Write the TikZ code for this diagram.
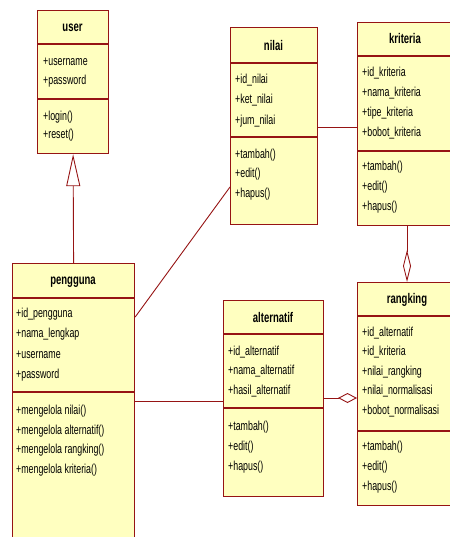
\documentclass[tikz,border=0pt]{standalone}
\usepackage{fontspec}
\setmainfont[FakeStretch=0.68]{Liberation Sans}
\usetikzlibrary{arrows.meta}
\definecolor{classfill}{RGB}{255,255,192}
\definecolor{classline}{RGB}{150,20,20}
\tikzset{
  umlline/.style={draw=classline, line width=1.2pt},
  relline/.style={draw=classline, line width=0.9pt},
  classbox/.style={umlline, fill=classfill, anchor=north west, inner sep=0pt},
  ctitle/.style={font=\fontsize{14}{16}\selectfont\bfseries, inner sep=0pt},
  citem/.style={font=\fontsize{13}{15}\selectfont, anchor=west, inner sep=0pt},
  generalize/.style={relline, -{Triangle[open, width=14pt, length=32pt]}},
  aggregate/.style 2 args={relline, -{Diamond[open, width=#1, length=#2]}},
}
% one class: name, left, top, right, bottom, divider 1, divider 2, title, title y
\newcommand\umlclass[9]{%
  \node[classbox, minimum width=#4-#2, minimum height=#5-#3] (#1) at (#2,#3) {};
  \draw[umlline] (#2,#6) -- (#4,#6);
  \draw[umlline] (#2,#7) -- (#4,#7);
  \node[ctitle] (#1-title) at ({(#2+#4)/2},#9) {#8};
}
% a list of member lines: class name, prefix, x, first y, step, items
\newcommand\umlmembers[6]{%
  \foreach \t [count=\i] in {#6}
    \node[citem] (#1-#2\i) at (#3, {#4+(\i-1)*#5}) {\t};
}
\begin{document}
\begin{tikzpicture}[x=1pt, y=-1pt]
\useasboundingbox (0,0) rectangle (449,537);

% user
\umlclass{user}{37}{10}{108}{153}{44}{99}{user}{28}
\umlmembers{user}{a}{43}{62}{19}{+username, +password}
\umlmembers{user}{o}{43}{117}{18.5}{+login(), +reset()}

% nilai
\umlclass{nilai}{230}{27}{317}{224}{63}{137}{nilai}{45}
\umlmembers{nilai}{a}{235}{80}{20.5}{+id\_nilai, +ket\_nilai, +jum\_nilai}
\umlmembers{nilai}{o}{235}{155}{19.5}{+tambah(), +edit(), +hapus()}

% kriteria
\umlclass{kriteria}{357}{22}{453}{225}{56}{151}{kriteria}{38}
\umlmembers{kriteria}{a}{362}{73}{20}{+id\_kriteria, +nama\_kriteria, +tipe\_kriteria, +bobot\_kriteria}
\umlmembers{kriteria}{o}{362}{167}{20}{+tambah(), +edit(), +hapus()}

% pengguna
\umlclass{pengguna}{12}{263}{134}{560}{298}{392}{pengguna}{282}
\umlmembers{pengguna}{a}{16}{314}{20.5}{+id\_pengguna, +nama\_lengkap, +username, +password}
\umlmembers{pengguna}{o}{16}{411}{19.7}{+mengelola nilai(), +mengelola alternatif(), +mengelola rangking(), +mengelola kriteria()}

% alternatif
\umlclass{alternatif}{223}{300}{323}{496}{334}{408}{alternatif}{317}
\umlmembers{alternatif}{a}{228}{352}{19.5}{+id\_alternatif, +nama\_alternatif, +hasil\_alternatif}
\umlmembers{alternatif}{o}{228}{427}{20}{+tambah(), +edit(), +hapus()}

% rangking
\umlclass{rangking}{357}{282}{457}{505}{316}{431}{rangking}{300}
\umlmembers{rangking}{a}{362}{333}{19.5}{+id\_alternatif, +id\_kriteria, +nilai\_rangking, +nilai\_normalisasi, +bobot\_normalisasi}
\umlmembers{rangking}{o}{362}{447}{20}{+tambah(), +edit(), +hapus()}

% relations
\draw[generalize] (pengguna.north) -- (user.south);
\draw[relline] (pengguna.east |- 0,317) -- (nilai.west |- 0,187);
\draw[relline] (nilai.east |- 0,127) -- (kriteria.west |- 0,127);
\draw[relline] (pengguna.east |- 0,401) -- (alternatif.west |- 0,401);
\draw[aggregate={10pt}{19pt}] (alternatif.east |- 0,398) -- (rangking.west |- 0,398);
\draw[aggregate={8pt}{32pt}] (kriteria.south -| 407,0) -- (rangking.north -| 407,0);
\end{tikzpicture}
\end{document}
